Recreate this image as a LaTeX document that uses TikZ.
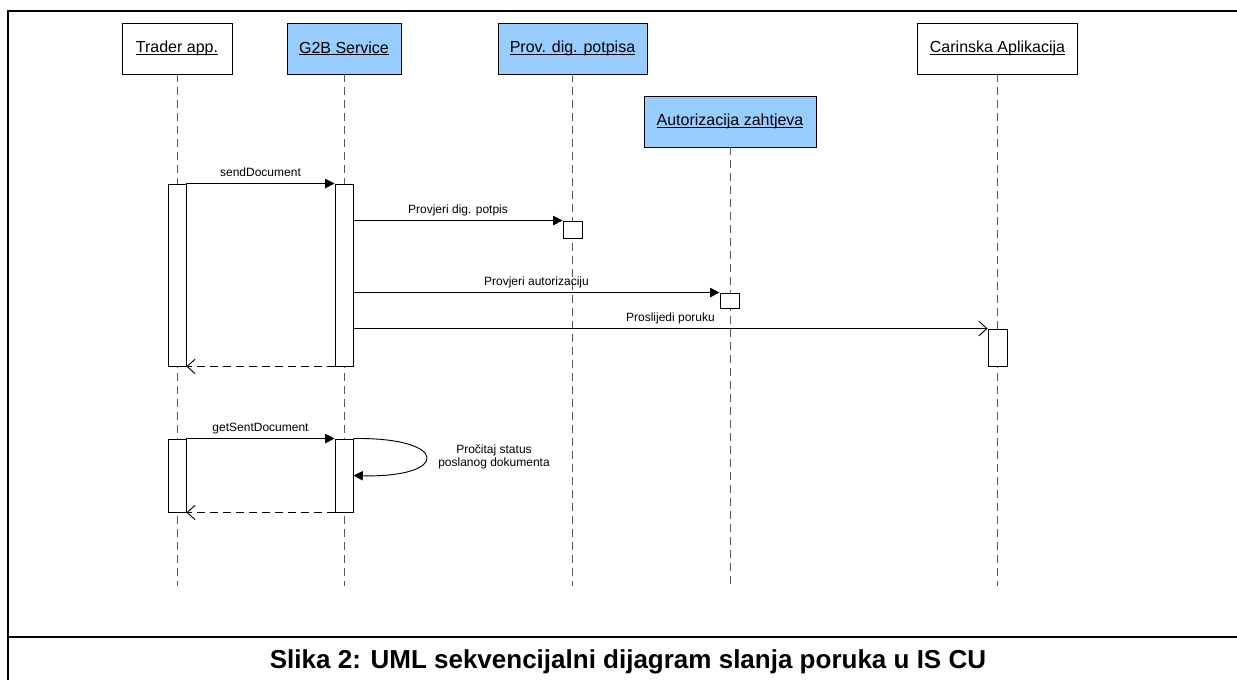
\documentclass[tikz,border=0pt]{standalone}
\usepackage{fontspec}
\setmainfont{Liberation Sans}
\usetikzlibrary{arrows.meta}
\definecolor{headblue}{RGB}{153,204,255}
\newcommand{\ulabel}[1]{\setbox0\hbox{#1}\rlap{\rule[-1.3pt]{\wd0}{0.6pt}}\box0}
\tikzset{every node/.style={font=\fontsize{9}{9.75}\selectfont}, % small labels on the messages
head/.style={draw, minimum height=38.25pt, inner sep=0pt, font=\fontsize{12}{14}\selectfont}, % lifeline heads
activ/.style={draw, fill=white, minimum width=13.5pt, inner sep=0pt}, % activation bars
lifeline/.style={draw=black!65, dash pattern=on 6pt off 3.75pt},
call/.style={-{Triangle[length=7pt,width=7pt]}}, % synchronous call
async/.style={-{Straight Barb[length=6pt,width=11pt]}}, % open head
reply/.style={async, dash pattern=on 6pt off 3.75pt}, % dashed return
lbl/.style={above=1.25pt, text height=6.5pt, text depth=2pt, inner sep=2pt},
}

\begin{document}
\begin{tikzpicture}[x=0.75pt, y=-0.75pt, line width=0.7pt]
\useasboundingbox (0,0) rectangle (1237,679);
\draw[line width=2.2pt] (8,11) rectangle (1250,700);
\draw[line width=2.2pt] (8,637) -- (1250,637);
\node[anchor=base, font=\bfseries\fontsize{19.5}{22}\selectfont] (caption) at (628,668) {Slika 2: UML sekvencijalni dijagram slanja poruka u IS CU};

\node[head, minimum width=82.5pt] (trader) at (177,48.5) {\ulabel{Trader app.}};
\node[head, fill=headblue, minimum width=85.5pt] (gtb) at (344,48.5) {\ulabel{G2B Service}};
\node[head, fill=headblue, minimum width=111.75pt] (prov) at (572.5,48.5) {\ulabel{Prov. dig. potpisa}};
\node[head, fill=headblue, minimum width=129pt] (autor) at (730,121.5) {\ulabel{Autorizacija zahtjeva}};
\node[head, minimum width=120pt] (carin) at (997.5,48.5) {\ulabel{Carinska Aplikacija}};

\coordinate (end) at (0,586);
\foreach \n in {trader,gtb,prov,autor,carin}
  \draw[lifeline] (\n) -- (\n |- end);

\node[activ, minimum height=136.5pt] (tA) at (177,275) {};
\node[activ, minimum height=136.5pt] (gA) at (344,275) {};
\node[activ, minimum width=14.25pt, minimum height=12.75pt] (pA) at (572.5,229.5) {};
\node[activ, minimum width=14.25pt, minimum height=11.25pt] (aA) at (729.5,300.5) {};
\node[activ, minimum width=14.25pt, minimum height=27.75pt] (cA) at (997.5,347.5) {};
\node[activ, minimum height=54.75pt] (tB) at (177,475.5) {};
\node[activ, minimum height=54.75pt] (gB) at (344,475.5) {};

\draw[call] (tA.north east) -- node[lbl] {sendDocument} (gA.north west);
\draw[call] (gA.east |- pA.north) -- node[lbl] {Provjeri dig. potpis} (pA.north west);
\draw[call] (gA.east |- aA.north) -- node[lbl] {Provjeri autorizaciju} (aA.north west);
\draw[async] (gA.east |- cA.north) -- node[lbl] {Proslijedi poruku} (cA.north west);
\draw[reply] (gA.south west) -- (tA.south east);

\draw[call] (tB.north east) -- node[lbl] {getSentDocument} (gB.north west);
\draw[call] (gB.north east) .. controls (450,437) and (450,478) .. (gB.east);
\node[align=center] (self) at (494,457) {Pročitaj status\\poslanog dokumenta};
\draw[reply] (gB.south west) -- (tB.south east);
\end{tikzpicture}
\end{document}
